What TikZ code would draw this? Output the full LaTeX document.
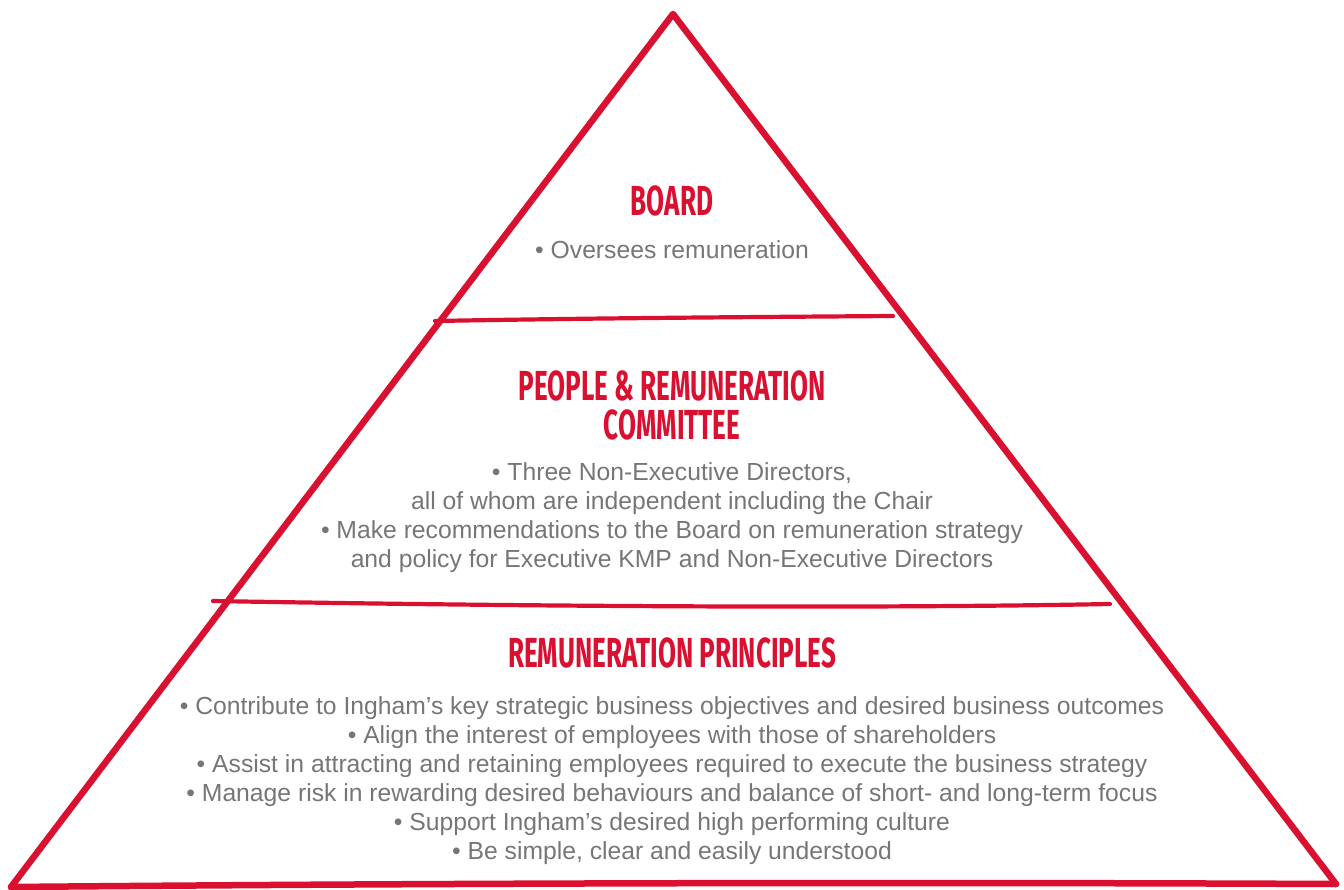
\documentclass[tikz,border=0pt]{standalone}
\usepackage{fontspec}
\setmainfont{Liberation Sans}
\newfontfamily\headfont{Fira Sans}
\definecolor{ingred}{HTML}{DA1030}
\definecolor{txtgray}{HTML}{767676}
\tikzset{
  edge/.style={ingred,line width=6.5pt,line join=round,line cap=round},
  band/.style={ingred,line width=4.2pt,line cap=round},
  head/.style={ingred,anchor=north,inner sep=0pt,align=center,xscale=0.62,transform shape,
    font=\headfont\bfseries\fontsize{42}{39}\selectfont},
  body/.style={txtgray,anchor=north,inner sep=0pt,align=center,
    font=\fontsize{24.7}{29}\selectfont}
}
\begin{document}
\begin{tikzpicture}[x=1pt,y=-1pt]
\useasboundingbox(0,0)rectangle(1344,890);
%pyramid
\coordinate(apex)at(673,14);
\coordinate(bl)at(11,887);
\coordinate(br)at(1336,884);
\draw[edge](bl)--(apex)--(br);
\draw[edge](bl)..controls(450,883)and(900,882)..(br);
%bands
\draw[band](435,321)..controls(600,318)and(760,317)..(893,316);
\draw[band](213,601)..controls(500,606)and(850,609)..(1110,604);
%board
\node[head](board)at(672,185){BOARD};
\node[body](boardtxt)at(672,240){• Oversees remuneration};
%committee
\node[head](prc)at(672,370){PEOPLE \& REMUNERATION\\COMMITTEE};
\node[body](prctxt)at(672,462){• Three Non-Executive Directors,\\
all of whom are independent including the Chair\\
• Make recommendations to the Board on remuneration strategy\\
and policy for Executive KMP and Non-Executive Directors};
%principles
\node[head](princ)at(672,637){REMUNERATION PRINCIPLES};
\node[body](princtxt)at(672,696){• Contribute to Ingham’s key strategic business objectives and desired business outcomes\\
• Align the interest of employees with those of shareholders\\
• Assist in attracting and retaining employees required to execute the business strategy\\
• Manage risk in rewarding desired behaviours and balance of short- and long-term focus\\
• Support Ingham’s desired high performing culture\\
• Be simple, clear and easily understood};
\end{tikzpicture}
\end{document}
